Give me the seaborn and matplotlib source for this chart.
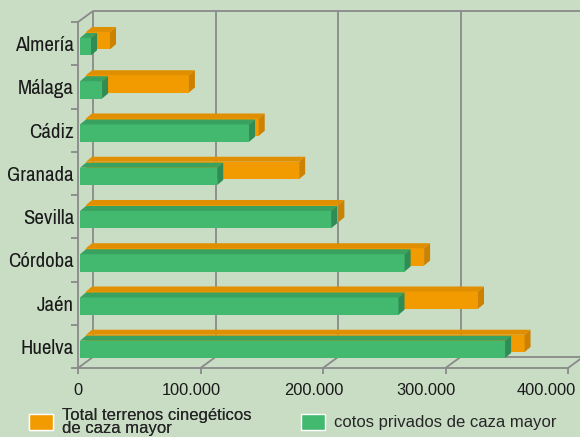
import matplotlib
matplotlib.use("Agg")
import matplotlib.pyplot as plt
import matplotlib.transforms as mtransforms
import seaborn as sns
from matplotlib.patches import Polygon, Patch
from matplotlib.ticker import FuncFormatter
from matplotlib import font_manager


provincias = ["Almería", "Málaga", "Cádiz", "Granada", "Sevilla", "Córdoba", "Jaén", "Huelva"]
total_caza_mayor = [19600, 84000, 141000, 174000, 206000, 276000, 320000, 358000]
cotos_privados = [9000, 18000, 138000, 112000, 205000, 265000, 260000, 347000]
xticks = [0, 100000, 200000, 300000, 400000]

etiqueta_total = "Total terrenos cinegéticos\nde caza mayor"
etiqueta_cotos = "cotos privados de caza mayor"

fondo = "#c9ddc5"
gris = "#898989"
naranja = ("#f29b00", "#e08f00", "#cc8200")  # frente, arriba, lado
verde = ("#42b96f", "#39a261", "#2e8c54")

sns.set_theme(style="white")
plt.rcParams["font.family"] = ["Liberation Sans", "DejaVu Sans"]

# fuente estrecha para las provincias
nombres = {f.name for f in font_manager.fontManager.ttflist}
if "Archivo Narrow" in nombres:
    fuente_cat = dict(fontfamily="Archivo Narrow", fontsize=15)
else:
    fuente_cat = dict(fontfamily="DejaVu Sans", fontstretch="condensed", fontsize=12.2)

W, H = 580, 437
fig = plt.figure(figsize=(W / 100, H / 100), dpi=100)
fig.patch.set_facecolor(fondo)
ax = fig.add_axes([78 / W, 1 - 368 / H, (568 - 78) / W, (368 - 22) / H])
ax.set_facecolor("none")

# barras: primero la serie de atrás (naranja), luego la de delante (verde)
sns.barplot(x=total_caza_mayor, y=provincias, orient="h", color=naranja[0],
            width=0.4, saturation=1, ax=ax, zorder=3)
sns.barplot(x=cotos_privados, y=provincias, orient="h", color=verde[0],
            width=0.4, saturation=1, ax=ax, zorder=5)

ax.set_xlim(0, 400000)
ax.set_ylim(7.5, -0.5)
fig.canvas.draw()

to_disp = ax.transData.transform
to_data = ax.transData.inverted().transform

# profundidad de cada barra y de la pared del fondo (px)
dx, dy = 6, 5
wall_dx, wall_dy = 15, 11


def cubo(rect, off_x, off_y, colores, z):
    (xa, ya), (xb, yb) = to_disp([(rect.get_x(), rect.get_y()),
                                  (rect.get_x() + rect.get_width(), rect.get_y() + rect.get_height())])
    x0, x1 = min(xa, xb) + off_x, max(xa, xb) + off_x
    y0, y1 = min(ya, yb) + off_y, max(ya, yb) + off_y
    (nx0, ny0), (nx1, ny1) = to_data([(x0, y0), (x1, y1)])
    rect.set_x(nx0)
    rect.set_y(min(ny0, ny1))
    rect.set_height(abs(ny1 - ny0))
    rect.set_width(nx1 - nx0)
    rect.set_linewidth(0)
    rect.set_zorder(z)
    arriba = to_data([(x0, y1), (x1, y1), (x1 + dx, y1 + dy), (x0 + dx, y1 + dy)])
    lado = to_data([(x1, y0), (x1, y1), (x1 + dx, y1 + dy), (x1 + dx, y0 + dy)])
    ax.add_patch(Polygon(arriba, closed=True, facecolor=colores[1], lw=0, zorder=z))
    ax.add_patch(Polygon(lado, closed=True, facecolor=colores[2], lw=0, zorder=z))


for rect in ax.containers[0]:
    cubo(rect, 2 + dx, -3 + dy + 1, naranja, 3)
for rect in ax.containers[1]:
    cubo(rect, 2, -3, verde, 5)

# pared del fondo y suelo
X = [to_disp((v, 0))[0] for v in xticks]
ytop = to_disp((0, -0.5))[1]
ybot = to_disp((0, 7.5))[1]


def linea(p, q, z=1):
    pts = to_data([p, q])
    ax.plot(pts[:, 0], pts[:, 1], color=gris, lw=1.3, clip_on=False, zorder=z,
            solid_capstyle="butt")


for xv in X:
    linea((xv + wall_dx, ybot + wall_dy), (xv + wall_dx, ytop + wall_dy))
    linea((xv, ybot), (xv + wall_dx, ybot + wall_dy))
linea((X[0] + wall_dx, ytop + wall_dy), (X[-1] + wall_dx, ytop + wall_dy))
linea((X[0] + wall_dx, ybot + wall_dy), (X[-1] + wall_dx, ybot + wall_dy))
linea((X[0], ytop), (X[0] + wall_dx, ytop + wall_dy))

for lado in ["top", "right"]:
    ax.spines[lado].set_visible(False)
for lado in ["left", "bottom"]:
    ax.spines[lado].set_color(gris)
    ax.spines[lado].set_linewidth(1.3)

ax.set_xticks(xticks)
ax.xaxis.set_major_formatter(FuncFormatter(lambda v, p: f"{int(v):,}".replace(",", ".")))
ax.tick_params(axis="x", length=4, width=1.3, color=gris, pad=7, labelsize=11.8,
               labelcolor="#1a1a1a", bottom=True)
ax.set_yticks(range(len(provincias)))
ax.set_yticklabels(provincias, color="#1a1a1a", **fuente_cat)
ax.set_yticks([i - 0.5 for i in range(len(provincias) + 1)], minor=True)
ax.tick_params(axis="y", which="major", length=0, pad=3)
ax.tick_params(axis="y", which="minor", length=5, width=1.3, color=gris, left=True)
ax.set_xlabel("")
ax.set_ylabel("")

# en el original las etiquetas del eje x no van centradas en su marca
desplaz = [0, -9, -9, -20, -22]
for lab, d in zip(ax.get_xticklabels(), desplaz):
    lab.set_transform(lab.get_transform() + mtransforms.ScaledTranslation(d / 100, 0, fig.dpi_scale_trans))

# leyenda
ley1 = fig.legend(handles=[Patch(facecolor=naranja[0])], labels=[etiqueta_total],
                  loc="center left", bbox_to_anchor=(29 / W, 1 - 422 / H), frameon=False,
                  fontsize=12, handlelength=1.45, handleheight=1.1, handletextpad=0.5,
                  borderpad=0, borderaxespad=0)
ley1.get_texts()[0].set_linespacing(0.85)
fig.add_artist(ley1)
fig.legend(handles=[Patch(facecolor=verde[0])], labels=[etiqueta_cotos],
           loc="center left", bbox_to_anchor=(301 / W, 1 - 422 / H), frameon=False,
           fontsize=12, handlelength=1.45, handleheight=1.1, handletextpad=0.5,
           borderpad=0, borderaxespad=0)

fig.savefig("out.png", dpi=100, facecolor=fondo)
